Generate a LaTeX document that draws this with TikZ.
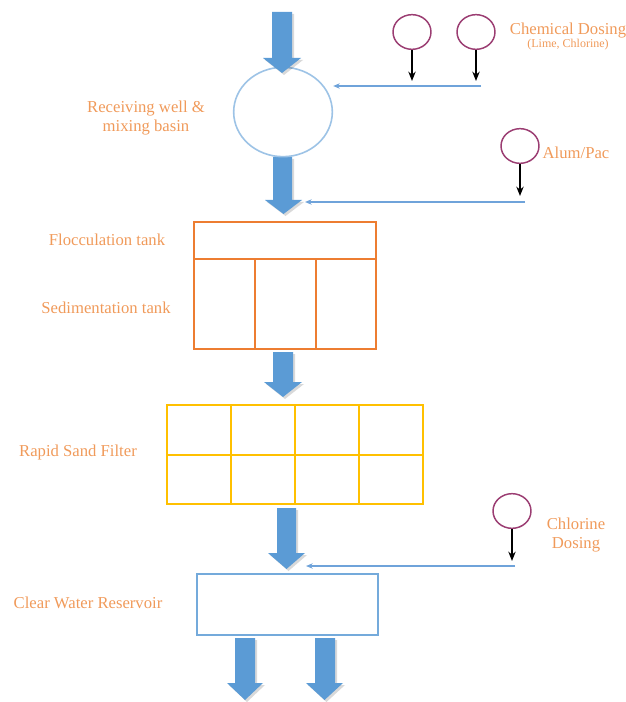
\documentclass[tikz,border=0pt]{standalone}
\usepackage{fontspec}
\setmainfont{Liberation Serif}
\usetikzlibrary{arrows.meta,shapes.geometric}
\definecolor{flowblue}{HTML}{5B9BD5}
\definecolor{wellblue}{HTML}{9DC3E6}
\definecolor{lineblue}{HTML}{6FA3DA}
\definecolor{labelorange}{HTML}{F09A5A}
\definecolor{tankorange}{HTML}{ED7D31}
\definecolor{filteryellow}{HTML}{FFC000}
\definecolor{dosepurple}{HTML}{9B3D72}
\tikzset{
  px/.style={x=0.75pt,y=-0.75pt},
  lbl/.style={text=labelorange,font=\fontsize{12.5}{14}\selectfont,align=center,inner sep=0pt},
  doser/.style={draw=dosepurple,line width=1.1pt,fill=white,ellipse,minimum width=28.5pt,minimum height=26pt,inner sep=0pt},
  feed/.style={-{Stealth[length=7pt,width=5.5pt]},line width=1.2pt,black},
  dosline/.style={-{Stealth[length=5pt,width=4pt]},draw=lineblue,line width=1.1pt},
  flowarrow/.style={fill=flowblue,draw=none},
  flowshadow/.style={fill=black,opacity=0.15,draw=none},
}
% vertical block arrow: shaft x-range, head x-range, top, head start, tip
\newcommand{\blockarrow}[7]{%
  \fill[flowshadow] ({#1+2},{#5+2}) -- ({#2+2},{#5+2}) -- ({#2+2},{#6+2}) -- ({#4+2},{#6+2}) -- ({(#3+#4)/2+2},{#7+2}) -- ({#3+2},{#6+2}) -- ({#1+2},{#6+2}) -- cycle;
  \fill[flowarrow] (#1,#5) -- (#2,#5) -- (#2,#6) -- (#4,#6) -- ({(#3+#4)/2},#7) -- (#3,#6) -- (#1,#6) -- cycle;}
\begin{document}
\begin{tikzpicture}[px]
\useasboundingbox (0,0) rectangle (625,702);

% main flow arrows below the basin
\blockarrow{273}{292}{265}{302}{157}{200}{214}
\blockarrow{273}{293}{264}{302}{352}{382}{397}
\blockarrow{277}{296}{268}{305}{508}{553}{569}
\blockarrow{235}{255}{227}{263}{638}{683}{700}
\blockarrow{315}{335}{306}{343}{638}{683}{700}

% receiving well and mixing basin
\node[draw=wellblue,line width=1.2pt,fill=white,ellipse,minimum width=74pt,minimum height=67pt] (well) at (283,112) {};
\node[lbl] (welllbl) at (146,118) {Receiving well \&\\mixing basin};

% raw water inlet
\blockarrow{272}{292}{263}{301}{12}{58}{73}

% chemical dosing (lime, chlorine)
\node[doser] (dose1) at (412,32) {};
\node[doser] (dose2) at (476,32) {};
\coordinate (dose1end) at (412,81);
\coordinate (dose2end) at (476,81);
\draw[feed] (dose1.south) -- (dose1end);
\draw[feed] (dose2.south) -- (dose2end);
\coordinate (chemstart) at (481,86);
\draw[dosline] (chemstart) -- (well.east |- chemstart);
\node[lbl] (chemlbl) at (568,31) {Chemical Dosing};
\node[lbl,font=\fontsize{9}{10}\selectfont] (chemsub) at (568,45) {(Lime, Chlorine)};

% alum / pac dosing
\node[doser] (alum) at (520,146) {};
\coordinate (alumend) at (520,196);
\draw[feed] (alum.south) -- (alumend);
\coordinate (alumstart) at (525,202);
\coordinate (alumtip) at (305,202);
\draw[dosline] (alumstart) -- (alumtip);
\node[lbl] (alumlbl) at (576,153) {Alum/Pac};

% flocculation and sedimentation tanks
\node[draw=tankorange,line width=1.2pt,minimum width=136.5pt,minimum height=95.25pt,inner sep=0pt] (tank) at (285,285.5) {};
\draw[tankorange,line width=1.2pt] (194,259) -- (376,259);
\draw[tankorange,line width=1.2pt] (255,259) -- (255,349);
\draw[tankorange,line width=1.2pt] (316,259) -- (316,349);
\node[lbl] (flocclbl) at (107,240) {Flocculation tank};
\node[lbl] (sedlbl) at (106,308) {Sedimentation tank};

% rapid sand filter
\node[draw=filteryellow,line width=1.2pt,minimum width=192pt,minimum height=74.25pt,inner sep=0pt] (filter) at (295,454.5) {};
\draw[filteryellow,line width=1.2pt] (167,455) -- (423,455);
\foreach \xx in {231,295,359} \draw[filteryellow,line width=1.2pt] (\xx,405) -- (\xx,504);
\node[lbl] (filterlbl) at (78,452) {Rapid Sand Filter};

% chlorine dosing
\node[doser] (chlor) at (512,511) {};
\coordinate (chlorend) at (512,561);
\draw[feed] (chlor.south) -- (chlorend);
\coordinate (chlorstart) at (515,566);
\coordinate (chlortip) at (306,566);
\draw[dosline] (chlorstart) -- (chlortip);
\node[lbl] (chlorlbl) at (576,535) {Chlorine\\Dosing};

% clear water reservoir
\node[draw=flowblue!85,line width=1.2pt,minimum width=136pt,minimum height=45.75pt,inner sep=0pt] (reservoir) at (287.5,604.5) {};
\node[lbl] (reslbl) at (88,603) {Clear Water Reservoir};
\end{tikzpicture}
\end{document}
